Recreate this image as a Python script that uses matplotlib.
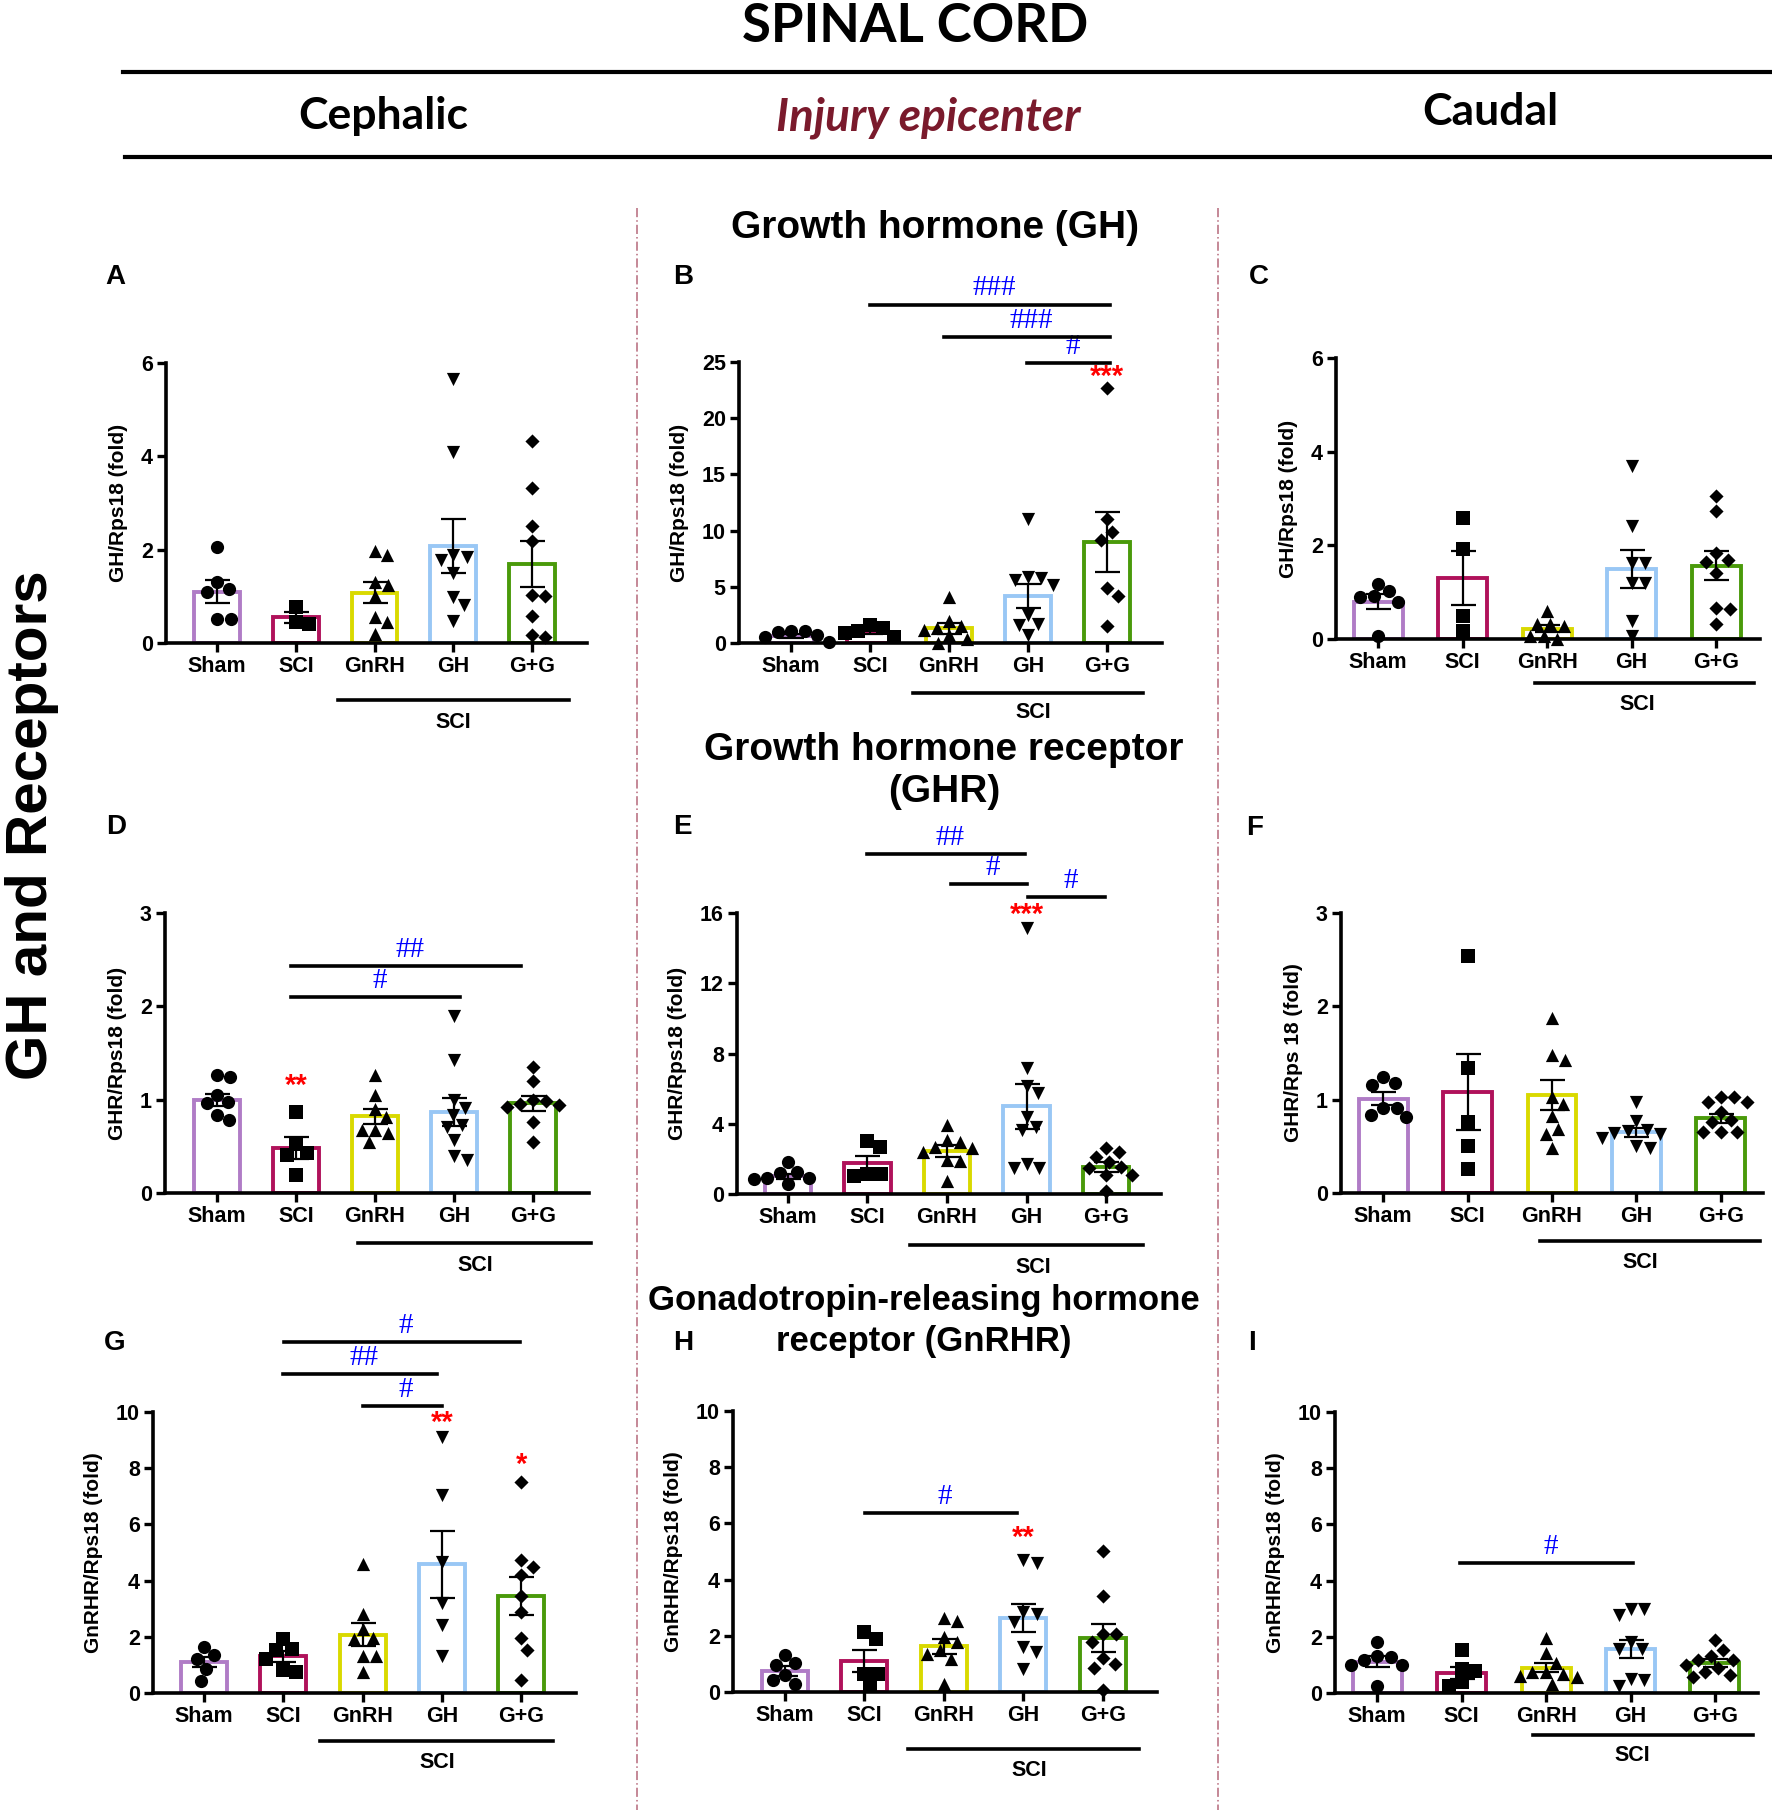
import numpy as np
import matplotlib
matplotlib.use('Agg')
import matplotlib.pyplot as plt
from matplotlib.lines import Line2D
from matplotlib.transforms import blended_transform_factory

plt.rcParams['font.family'] = ['Liberation Sans', 'DejaVu Sans']
plt.rcParams['font.weight'] = 'bold'

# groups and colours
groups = ['Sham', 'SCI', 'GnRH', 'GH', 'G+G']
colors = ['#B07CC6', '#B0125B', '#D9D900', '#99C7F5', '#4A9A0A']
markers = ['o', 's', '^', 'v', 'D']

# --- data (individual animals, bar mean, SEM) ---
a_points = [[2.05, 1.30, 1.15, 1.10, 0.52, 0.52],
            [0.77, 0.46, 0.41],
            [1.98, 1.88, 1.31, 1.25, 1.01, 0.56, 0.45, 0.20],
            [5.66, 4.09, 1.88, 1.84, 1.77, 1.49, 0.99, 0.81, 0.47],
            [4.33, 3.33, 2.50, 2.19, 1.02, 1.00, 0.57, 0.18, 0.13]]
a_mean = [1.10, 0.55, 1.08, 2.08, 1.70]
a_sem = [0.24, 0.12, 0.23, 0.57, 0.49]

b_points = [[1.1, 1.1, 1.0, 0.75, 0.5, 0.1],
            [1.6, 1.3, 1.1, 0.85, 0.55],
            [4.1, 1.95, 1.5, 1.35, 1.2, 0.7, 0.4, 0.0],
            [11.0, 5.88, 5.8, 5.58, 5.14, 2.46, 1.72, 1.57, 0.68],
            [22.7, 11.0, 9.9, 9.2, 4.85, 4.15, 1.55]]
b_mean = [0.6, 1.0, 1.3, 4.2, 9.0]
b_sem = [0.17, 0.2, 0.5, 1.05, 2.65]

c_points = [[1.18, 1.02, 0.91, 0.90, 0.80, 0.07],
            [2.58, 1.92, 0.50, 0.18],
            [0.59, 0.31, 0.31, 0.27, 0.06, 0.06, 0.0],
            [3.69, 2.42, 1.62, 1.62, 1.20, 1.20, 0.39, 0.06],
            [3.05, 2.73, 1.84, 1.69, 1.64, 1.41, 0.66, 0.65, 0.32]]
c_mean = [0.80, 1.30, 0.22, 1.50, 1.56]
c_sem = [0.16, 0.58, 0.08, 0.41, 0.31]

d_points = [[1.26, 1.24, 1.05, 0.97, 0.96, 0.84, 0.78],
            [0.87, 0.52, 0.43, 0.41, 0.19],
            [1.26, 1.05, 0.90, 0.81, 0.68, 0.68, 0.64, 0.55],
            [1.90, 1.42, 1.00, 0.91, 0.84, 0.73, 0.71, 0.57, 0.40, 0.35],
            [1.35, 1.20, 1.00, 0.99, 0.95, 0.94, 0.92, 0.76, 0.55]]
d_mean = [1.00, 0.48, 0.82, 0.87, 0.96]
d_sem = [0.065, 0.12, 0.085, 0.15, 0.08]

e_points = [[1.84, 1.27, 1.22, 0.93, 0.89, 0.84, 0.55],
            [3.04, 2.70, 1.14, 1.14, 1.03],
            [3.94, 3.08, 2.98, 2.70, 2.60, 2.41, 1.94, 1.90, 0.74],
            [15.15, 7.17, 6.16, 5.74, 4.37, 3.80, 3.65, 1.69, 1.46, 1.46],
            [2.64, 2.38, 2.13, 1.84, 1.56, 1.46, 1.08, 1.08, 0.19]]
e_mean = [1.0, 1.75, 2.45, 5.0, 1.55]
e_sem = [0.15, 0.43, 0.34, 1.29, 0.27]

f_points = [[1.24, 1.18, 1.16, 0.91, 0.91, 0.84, 0.81],
            [2.54, 1.34, 0.76, 0.50, 0.26],
            [1.87, 1.48, 1.43, 1.03, 0.95, 0.82, 0.69, 0.63, 0.48],
            [0.98, 0.77, 0.68, 0.66, 0.64, 0.63, 0.59, 0.50, 0.48],
            [1.03, 1.03, 0.98, 0.97, 0.87, 0.78, 0.76, 0.65, 0.65, 0.65]]
f_mean = [1.01, 1.08, 1.05, 0.65, 0.80]
f_sem = [0.07, 0.41, 0.16, 0.05, 0.05]

g_points = [[1.64, 1.34, 1.22, 0.87, 0.43],
            [1.93, 1.58, 1.52, 1.22, 0.83, 0.75],
            [4.60, 2.82, 2.29, 1.97, 1.93, 1.30, 1.30, 0.75],
            [9.11, 7.04, 4.66, 3.20, 2.41, 1.30],
            [7.51, 4.72, 4.48, 4.21, 3.44, 2.88, 1.97, 1.54, 0.47]]
g_mean = [1.10, 1.30, 2.08, 4.58, 3.45]
g_sem = [0.19, 0.20, 0.41, 1.2, 0.69]

h_points = [[1.33, 1.03, 0.95, 0.59, 0.44, 0.27],
            [2.14, 1.90, 0.65, 0.65, 0.21],
            [2.65, 2.53, 1.94, 1.78, 1.48, 1.34, 1.19, 0.30],
            [4.69, 4.60, 2.83, 2.77, 2.49, 1.60, 1.43, 0.83],
            [5.02, 3.42, 2.05, 2.05, 1.78, 1.22, 1.01, 0.87, 0.06]]
h_mean = [0.74, 1.10, 1.62, 2.62, 1.93]
h_sem = [0.17, 0.39, 0.28, 0.5, 0.5]

i_points = [[1.81, 1.30, 1.28, 1.16, 1.01, 1.01, 0.25],
            [1.52, 0.87, 0.78, 0.39, 0.24],
            [1.97, 1.42, 1.08, 0.75, 0.75, 0.69, 0.59, 0.57, 0.33],
            [3.00, 3.00, 2.76, 1.81, 1.58, 1.58, 0.51, 0.45, 0.24],
            [1.90, 1.52, 1.30, 1.19, 1.19, 1.01, 0.89, 0.75, 0.63, 0.57]]
i_mean = [1.12, 0.72, 0.90, 1.58, 1.08]
i_sem = [0.18, 0.22, 0.17, 0.32, 0.14]

# significance marks: (from group, to group, level, text) and (group, level, text)
b_brackets = [(1.0, 4.04, 30.1, '###'), (1.94, 4.04, 27.2, '###'), (2.99, 4.04, 24.9, '#')]
b_stars = [(4, 23.7, '***')]
d_brackets = [(0.94, 3.85, 2.43, '##'), (0.94, 3.08, 2.10, '#')]
d_stars = [(1, 1.15, '**')]
e_brackets = [(0.99, 2.98, 19.36, '##'), (2.05, 3.0, 17.65, '#'), (3.02, 3.99, 16.9, '#')]
e_stars = [(3, 15.9, '***')]
g_brackets = [(1.01, 3.98, 12.49, '#'), (1.0, 2.94, 11.35, '##'), (2.0, 3.0, 10.21, '#')]
g_stars = [(3, 9.6, '**'), (4, 8.1, '*')]
h_brackets = [(1.01, 2.92, 6.37, '#')]
h_stars = [(3, 5.5, '**')]
i_brackets = [(0.98, 3.03, 4.63, '#')]

W, H = 1772, 1810
fig = plt.figure(figsize=(W / 100, H / 100), dpi=100)


def fx(x):
    return x / W


def fy(y):
    return 1 - y / H


def swarm(ax, gi, vals, diam):
    # simple beeswarm in pixel space, largest values placed first
    pts = ax.transData.transform([(gi, v) for v in vals])
    order = np.argsort(-np.array(vals), kind='stable')
    placed = []
    offs = np.zeros(len(vals))
    for i in order:
        y = pts[i, 1]
        forb = []
        for xo, yo in placed:
            dy = abs(y - yo)
            if dy < diam:
                h = np.sqrt(diam ** 2 - dy ** 2)
                forb.append((xo - h, xo + h))
        cands = [0.0] + [c for f in forb for c in f]
        cands.sort(key=lambda c: (round(abs(c), 3), -c))
        best = 0.0
        for c in cands:
            if all(not (lo + 1e-6 < c < hi - 1e-6) for lo, hi in forb):
                best = c
                break
        offs[i] = best
        placed.append((best, y))
    ppu = ax.transData.transform((1, 0))[0] - ax.transData.transform((0, 0))[0]
    return gi + offs / ppu


# letter, axes box px (left, top, right, bottom), xlim, ymax, yticks, ylabel,
# data, brackets, stars, SCI line (x1, x2, px below, text px below, text x), letter pos
panels = [
    ('A', (166, 363, 587, 643), (-0.65, 4.7), 6, [0, 2, 4, 6], 'GH/Rps18 (fold)',
     a_points, a_mean, a_sem, [], [], (1.54, 4.47, 57, 79, 3.0), (115, 277)),
    ('B', (739, 362, 1162, 643), (-0.66, 4.7), 25, [0, 5, 10, 15, 20, 25], 'GH/Rps18 (fold)',
     b_points, b_mean, b_sem, b_brackets, b_stars, (1.54, 4.46, 50, 70, 3.07), (683, 277)),
    ('C', (1336, 358, 1760, 639), (-0.5, 4.52), 6, [0, 2, 4, 6], 'GH/Rps18 (fold)',
     c_points, c_mean, c_sem, [], [], (1.86, 4.45, 44, 66, 3.07), (1259, 277)),
    ('D', (165, 913, 589, 1193), (-0.66, 4.71), 3, [0, 1, 2, 3], 'GHR/Rps18 (fold)',
     d_points, d_mean, d_sem, d_brackets, d_stars, (1.78, 4.73, 50, 72, 3.27), (116, 827)),
    ('E', (737, 913, 1161, 1194), (-0.64, 4.69), 16, [0, 4, 8, 12, 16], 'GHR/Rps18 (fold)',
     e_points, e_mean, e_sem, e_brackets, e_stars, (1.53, 4.47, 51, 73, 3.08), (682, 827)),
    ('F', (1341, 913, 1763, 1193), (-0.5, 4.5), 3, [0, 1, 2, 3], 'GHR/Rps 18 (fold)',
     f_points, f_mean, f_sem, [], [], (1.86, 4.46, 48, 69, 3.05), (1255, 828)),
    ('G', (153, 1412, 576, 1693), (-0.64, 4.69), 10, [0, 2, 4, 6, 8, 10], 'GnRHR/Rps18 (fold)',
     g_points, g_mean, g_sem, g_brackets, g_stars, (1.46, 4.4, 48, 69, 2.94), (115, 1343)),
    ('H', (733, 1411, 1157, 1692), (-0.65, 4.68), 10, [0, 2, 4, 6, 8, 10], 'GnRHR/Rps18 (fold)',
     h_points, h_mean, h_sem, h_brackets, h_stars, (1.55, 4.45, 57, 78, 3.07), (683, 1343)),
    ('I', (1335, 1412, 1758, 1693), (-0.5, 4.51), 10, [0, 2, 4, 6, 8, 10], 'GnRHR/Rps18 (fold)',
     i_points, i_mean, i_sem, i_brackets, [], (1.85, 4.45, 42, 62, 3.02), (1252, 1343)),
]

for (letter, box, xlim, ymax, yticks, ylabel, pts, means, sems,
     brackets, stars, sci, lpos) in panels:
    l, t, r, b = box
    ax = fig.add_axes([fx(l), fy(b), (r - l) / W, (b - t) / H])
    ax.set_xlim(*xlim)
    ax.set_ylim(0, ymax)
    x = np.arange(5)
    ax.bar(x, means, width=0.58, facecolor='white', edgecolor=colors,
           linewidth=2.8, zorder=2)
    for gi in range(5):
        xs = swarm(ax, gi, pts[gi], 13.5)
        ax.scatter(xs, pts[gi], marker=markers[gi], s=(9.5 if markers[gi] != 'D' else 7.2) ** 2,
                   c='black', linewidths=0, zorder=3, clip_on=False)
    ax.errorbar(x, means, yerr=sems, fmt='none', ecolor='black', elinewidth=1.6,
                capsize=9, capthick=1.6, zorder=4)
    for s in ['top', 'right']:
        ax.spines[s].set_visible(False)
    for s in ['left', 'bottom']:
        ax.spines[s].set_linewidth(2.6)
    ax.set_xticks(x)
    ax.set_xticklabels(groups)
    ax.set_yticks(yticks)
    ax.tick_params(width=2.4, length=6.5, labelsize=15.5, pad=3)
    ax.set_ylabel(ylabel, fontsize=15, fontweight='bold', labelpad=9)

    hgt = b - t
    trans = blended_transform_factory(ax.transData, ax.transAxes)
    ax.plot([sci[0], sci[1]], [-sci[2] / hgt] * 2, color='black', lw=2.6,
            transform=trans, clip_on=False)
    ax.text(sci[4], -sci[3] / hgt, 'SCI', transform=trans, ha='center', va='center',
            fontsize=15.5, fontweight='bold')

    for x1, x2, lev, txt in brackets:
        ax.plot([x1, x2], [lev, lev], color='black', lw=2.6, clip_on=False, zorder=5)
        ax.text((x1 + x2) / 2 + 0.05, lev + ymax * 0.012, txt, ha='center', va='bottom',
                color='#0000FF', fontsize=21, fontweight='normal',
                family=['Liberation Serif', 'DejaVu Serif'], clip_on=False)
    for gi, lev, txt in stars:
        ax.text(gi, lev, txt, ha='center', va='center', color='#FF0000',
                fontsize=21, fontweight='bold', clip_on=False)

    fig.text(fx(lpos[0]), fy(lpos[1]), letter, ha='center', va='center',
             fontsize=20, fontweight='bold')

# section titles (one text per line)
fig.text(fx(935), fy(228), 'Growth hormone (GH)', ha='center', va='center',
         fontsize=28, fontweight='bold')
fig.text(fx(944), fy(750), 'Growth hormone receptor', ha='center', va='center',
         fontsize=28, fontweight='bold')
fig.text(fx(944), fy(792), '(GHR)', ha='center', va='center',
         fontsize=28, fontweight='bold')
fig.text(fx(924), fy(1300), 'Gonadotropin-releasing hormone', ha='center',
         va='center', fontsize=25, fontweight='bold')
fig.text(fx(924), fy(1341), 'receptor (GnRHR)', ha='center',
         va='center', fontsize=25, fontweight='bold')

# header
fig.text(fx(915), fy(27), 'SPINAL CORD', ha='center', va='center',
         fontsize=38, fontweight='bold', family=['Lato', 'DejaVu Sans'])
fig.add_artist(Line2D([fx(123), fx(1772)], [fy(72), fy(72)], color='black', lw=3))
fig.add_artist(Line2D([fx(125), fx(1772)], [fy(157), fy(157)], color='black', lw=3))
fig.text(fx(383), fy(116), 'Cephalic', ha='center', va='center',
         fontsize=32, fontweight='bold', family=['Lato', 'DejaVu Sans'])
fig.text(fx(928), fy(118), 'Injury epicenter', ha='center', va='center', color='#7A1A2C',
         fontsize=33, fontweight='bold', style='italic', family=['Lato', 'DejaVu Sans'])
fig.text(fx(1490), fy(112), 'Caudal', ha='center', va='center',
         fontsize=32, fontweight='bold', family=['Lato', 'DejaVu Sans'])

# column separators
for xs in [637, 1218]:
    fig.add_artist(Line2D([fx(xs), fx(xs)], [fy(208), fy(1810)], color='#B5687A',
                          lw=1.1, linestyle=(0, (6, 2, 1, 2))))

fig.text(fx(32), fy(825), 'GH and Receptors', rotation=90, ha='center', va='center',
         fontsize=42, fontweight='bold')

fig.savefig('out.png', dpi=100)
